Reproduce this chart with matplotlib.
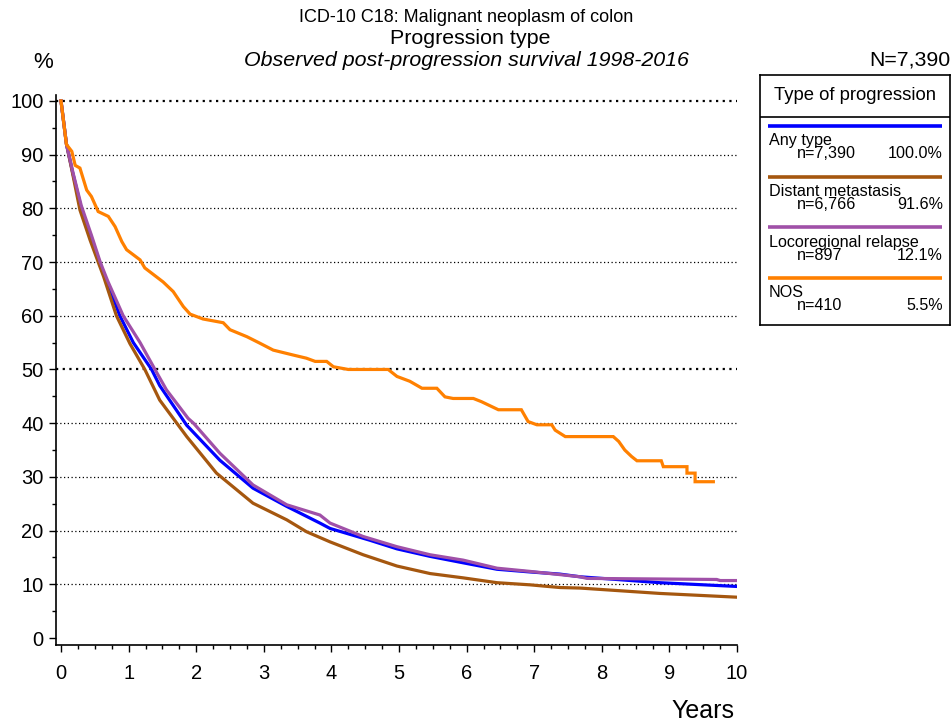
import matplotlib
matplotlib.use("Agg")
import matplotlib.pyplot as plt
from matplotlib.ticker import MultipleLocator

plt.rcParams['font.family'] = ['Liberation Sans', 'DejaVu Sans']

# ---- data ----
any_t = [0, 0.08, 0.17, 0.30, 0.45, 0.57, 0.66, 0.87, 1.07, 1.34, 1.46, 1.79, 1.86,
         2.35, 2.84, 3.34, 3.83, 3.98, 4.57, 4.97, 5.46, 5.95, 6.45, 6.94, 7.38, 7.68,
         8.86, 10.0]
any_s = [100, 92.0, 86.8, 80.0, 74.5, 70.0, 67.0, 60.0, 55.0, 50.0, 47.0, 40.9, 39.6,
         33.1, 27.9, 24.5, 21.4, 20.4, 18.2, 16.6, 15.2, 14.0, 12.8, 12.3, 11.9, 11.4,
         10.3, 9.6]

dist_t = [0, 0.08, 0.16, 0.28, 0.43, 0.55, 0.63, 0.82, 1.02, 1.24, 1.46, 1.66, 1.86,
          2.30, 2.84, 3.34, 3.63, 3.98, 4.47, 4.97, 5.46, 5.95, 6.45, 6.94, 7.38, 7.68,
          8.86, 10.0]
dist_s = [100, 92.0, 87.2, 79.7, 74.1, 70.0, 67.3, 60.0, 54.8, 50.0, 44.3, 40.9, 37.5,
          30.7, 25.1, 22.0, 19.8, 17.9, 15.5, 13.4, 12.0, 11.2, 10.3, 9.9, 9.4, 9.3,
          8.3, 7.6]

loco_t = [0, 0.08, 0.18, 0.30, 0.45, 0.58, 0.69, 0.92, 1.17, 1.39, 1.56, 1.88, 1.96,
          2.35, 2.84, 3.34, 3.83, 3.98, 4.47, 4.97, 5.46, 5.95, 6.45, 6.94, 7.68, 7.78,
          9.70, 9.75, 10.0]
loco_s = [100, 92.0, 86.5, 80.5, 75.0, 70.0, 66.5, 60.0, 55.0, 50.0, 46.2, 40.9, 40.0,
          34.4, 28.5, 24.8, 22.9, 21.4, 18.9, 17.0, 15.5, 14.5, 13.0, 12.4, 11.4, 11.1,
          10.9, 10.7, 10.7]

nos_t = [0, 0.08, 0.16, 0.21, 0.28, 0.38, 0.45, 0.55, 0.70, 0.80, 0.90, 0.97, 1.17,
         1.24, 1.51, 1.66, 1.81, 1.91, 2.10, 2.40, 2.50, 2.75, 2.94, 3.14, 3.43, 3.63,
         3.76, 3.93, 4.03, 4.25, 4.84, 4.97, 5.16, 5.34, 5.56, 5.68, 5.80, 6.10, 6.22,
         6.47, 6.81, 6.91, 7.04, 7.26, 7.31, 7.46, 8.17, 8.25, 8.34, 8.44, 8.52, 8.88,
         8.91, 9.26, 9.26, 9.38, 9.38, 9.65]
nos_s = [100, 91.9, 90.6, 88.0, 87.5, 83.4, 82.2, 79.4, 78.5, 76.6, 73.8, 72.3, 70.4,
         68.9, 66.3, 64.5, 61.7, 60.3, 59.4, 58.7, 57.4, 56.1, 54.9, 53.6, 52.7, 52.1,
         51.5, 51.5, 50.5, 50.0, 50.0, 48.7, 47.8, 46.5, 46.5, 44.9, 44.6, 44.6, 44.0,
         42.5, 42.5, 40.3, 39.7, 39.7, 38.7, 37.5, 37.5, 36.6, 35.0, 33.8, 33.0, 33.0,
         31.9, 31.9, 30.7, 30.7, 29.1, 29.1]

labels = ["Any type", "Distant metastasis", "Locoregional relapse", "NOS"]
counts = ["n=7,390", "n=6,766", "n=897", "n=410"]
shares = ["100.0%", "91.6%", "12.1%", "5.5%"]
colors = ["#0000ff", "#a5570f", "#a050a8", "#ff8000"]
series = [(any_t, any_s), (dist_t, dist_s), (loco_t, loco_s), (nos_t, nos_s)]

yticks = list(range(0, 101, 10))
xticks = list(range(0, 11))

W, H = 953, 726
fig = plt.figure(figsize=(W / 100, H / 100), dpi=100)

# main axes, placed in pixel terms
x0, x1, y0, y1 = 56, 737, 95, 645
ax = fig.add_axes([x0 / W, 1 - y1 / H, (x1 - x0) / W, (y1 - y0) / H])
ax.set_xlim(-0.074, 10)
ax.set_ylim(-1.3, 101.1)
for s in ("top", "right"):
    ax.spines[s].set_visible(False)
ax.spines["left"].set_linewidth(1.2)
ax.spines["bottom"].set_linewidth(1.2)

for v in yticks[1:]:
    ax.axhline(v, color="black", ls=(0, (1, 2)),
               lw=1.6 if v in (50, 100) else 0.9, zorder=1)

for (t, s), c in zip(series, colors):
    ax.plot(t, s, color=c, lw=2.3, solid_joinstyle="miter", zorder=3)

ax.set_xticks(xticks)
ax.set_yticks(yticks)
ax.xaxis.set_minor_locator(MultipleLocator(0.25))
ax.yaxis.set_minor_locator(MultipleLocator(5))
ax.tick_params(which="major", direction="out", length=5, width=1, labelsize=14.5)
ax.tick_params(which="minor", direction="out", length=3, width=1)
ax.tick_params(axis="x", pad=9)
ax.tick_params(axis="y", pad=4)

# titles and labels
fig.text(466 / W, 1 - 17 / H, "ICD-10 C18: Malignant neoplasm of colon",
         ha="center", va="center", fontsize=13)
fig.text(470 / W, 1 - 38 / H, "Progression type",
         ha="center", va="center", fontsize=15.4)
fig.text(466 / W, 1 - 60 / H, "Observed post-progression survival 1998-2016",
         ha="center", va="center", fontsize=15.4, style="italic")
fig.text(43 / W, 1 - 62 / H, "%", ha="center", va="center", fontsize=16)
fig.text(950 / W, 1 - 60 / H, "N=7,390", ha="right", va="center", fontsize=15.3)
fig.text(703 / W, 1 - 711 / H, "Years", ha="center", va="center", fontsize=18)

# legend box, in pixel-like coordinates
lx0, ly0, lw_, lh = 760, 75, 190, 250
lg = fig.add_axes([lx0 / W, 1 - (ly0 + lh) / H, lw_ / W, lh / H])
lg.set_xlim(0, lw_)
lg.set_ylim(lh, 0)
lg.set_xticks([])
lg.set_yticks([])
for sp in lg.spines.values():
    sp.set_linewidth(1.2)
lg.axhline(42, color="black", lw=1.2)
lg.text(95, 21, "Type of progression", ha="center", va="center", fontsize=13.3)
for i, (lab, n, p, c) in enumerate(zip(labels, counts, shares, colors)):
    yy = 51 + i * 50.5
    lg.plot([8, 182], [yy, yy], color=c, lw=2.6, solid_capstyle="butt")
    lg.text(9, yy + 15, lab, ha="left", va="center", fontsize=11.6)
    lg.text(37, yy + 28, n, ha="left", va="center", fontsize=11.6)
    lg.text(183, yy + 28, p, ha="right", va="center", fontsize=11.6)

fig.savefig("out.png", dpi=100)
